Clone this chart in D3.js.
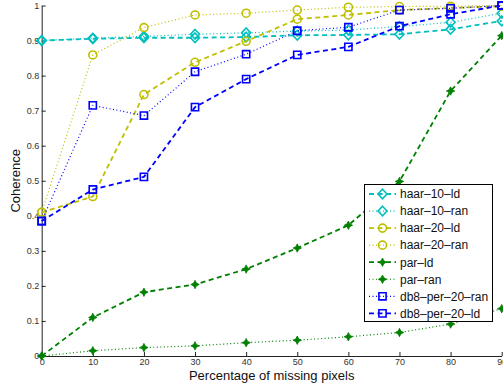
<!DOCTYPE html>
<html>
<head>
<meta charset="utf-8">
<script src="https://cdn.jsdelivr.net/npm/d3@7"></script>
<style>
  body { margin: 0; background: #fff; }
  text { font-family: "Liberation Sans", Arial, sans-serif; }
</style>
</head>
<body>
<div id="chart"></div>
<script>
// data
const missing = [0, 10, 20, 30, 40, 50, 60, 70, 80, 90];
const haar10ld = [0.90, 0.905, 0.908, 0.908, 0.91, 0.915, 0.916, 0.918, 0.932, 0.956];
const haar10ran = [0.90, 0.907, 0.912, 0.918, 0.922, 0.927, 0.93, 0.94, 0.952, 0.978];
const haar20ld = [0.41, 0.455, 0.746, 0.838, 0.898, 0.961, 0.973, 0.987, 0.993, 0.998];
const haar20ran = [0.41, 0.859, 0.937, 0.973, 0.978, 0.987, 0.995, 0.997, 0.998, 1.0];
const parld = [0, 0.11, 0.182, 0.204, 0.248, 0.308, 0.373, 0.498, 0.756, 0.914];
const parran = [0, 0.015, 0.024, 0.029, 0.038, 0.045, 0.055, 0.067, 0.091, 0.135];
const db8ran = [0.385, 0.715, 0.686, 0.811, 0.861, 0.928, 0.938, 0.987, 0.992, 1.0];
const db8ld = [0.385, 0.475, 0.511, 0.71, 0.79, 0.859, 0.882, 0.941, 0.975, 1.0];

const xTicks = [0, 10, 20, 30, 40, 50, 60, 70, 80, 90];
const yTicks = [0, 0.1, 0.2, 0.3, 0.4, 0.5, 0.6, 0.7, 0.8, 0.9, 1];

const seriesNames = ['haar–10–ld', 'haar–10–ran', 'haar–20–ld', 'haar–20–ran',
  'par–ld', 'par–ran', 'db8–per–20–ran', 'db8–per–20–ld'];
const seriesValues = [haar10ld, haar10ran, haar20ld, haar20ran, parld, parran, db8ran, db8ld];

// look of each series: colour, line style, marker
const seriesStyle = [
  { color: '#00bfbf', dash: '5,3.5', width: 1.8, marker: 'diamond' },
  { color: '#00bfbf', dash: '1,2.5', width: 1.2, marker: 'diamond' },
  { color: '#bfbf00', dash: '5,3.5', width: 1.8, marker: 'circle' },
  { color: '#bfbf00', dash: '1,2.5', width: 1.2, marker: 'circle' },
  { color: '#008000', dash: '5,3.5', width: 1.8, marker: 'star' },
  { color: '#008000', dash: '1,2.5', width: 1.2, marker: 'star' },
  { color: '#0000ff', dash: '1,2.5', width: 1.2, marker: 'square' },
  { color: '#0000ff', dash: '5,3.5', width: 1.8, marker: 'square' },
];

const width = 503;
const height = 389;
const plot = { left: 41.7, right: 501.7, top: 5.5, bottom: 356 };

const svg = d3
  .select('#chart')
  .append('svg')
  .attr('width', width)
  .attr('height', height);

const x = d3.scaleLinear().domain([0, 90]).range([plot.left, plot.right]);
const y = d3.scaleLinear().domain([0, 1]).range([plot.bottom, plot.top]);

// axes, ticks pointing inward like matlab
const xAxis = svg
  .append('g')
  .attr('transform', `translate(0,${plot.bottom})`)
  .call(d3.axisBottom(x).tickValues(xTicks).tickSizeInner(-4).tickSizeOuter(0).tickPadding(3));

const yAxis = svg
  .append('g')
  .attr('transform', `translate(${plot.left},0)`)
  .call(d3.axisLeft(y).tickValues(yTicks).tickFormat(d3.format('~g'))
    .tickSizeInner(-4).tickSizeOuter(0).tickPadding(2.5));

[xAxis, yAxis].forEach((g) => {
  g.select('.domain').attr('stroke', '#222');
  g.selectAll('.tick line').attr('stroke', '#222');
  g.selectAll('text').style('font-size', '9px').attr('fill', '#333')
    .style('font-family', '"Liberation Sans", Arial, sans-serif');
});

// axis labels
svg
  .append('text')
  .attr('x', (plot.left + plot.right) / 2)
  .attr('y', 379.5)
  .style('text-anchor', 'middle')
  .style('font-size', '13px')
  .attr('fill', '#111')
  .text('Percentage of missing pixels');

svg
  .append('text')
  .attr('transform', `translate(19.5,${(plot.top + plot.bottom) / 2}) rotate(-90)`)
  .style('text-anchor', 'middle')
  .style('font-size', '13px')
  .attr('fill', '#111')
  .text('Coherence');

const markerPath = {
  diamond: 'M0,-4.8L4.5,0L0,4.8L-4.5,0Z',
  circle: d3.symbol(d3.symbolCircle, 50)(),
  square: 'M-3.6,-3.6L3.6,-3.6L3.6,3.6L-3.6,3.6Z',
  star: 'M0,-4.2L1.4,-1.4L4.2,0L1.4,1.4L0,4.2L-1.4,1.4L-4.2,0L-1.4,-1.4Z',
};

function drawMarker(g, style, cx, cy) {
  const filled = style.marker === 'star';
  g.append('path')
    .attr('d', markerPath[style.marker])
    .attr('transform', `translate(${cx},${cy})`)
    .attr('fill', filled ? style.color : 'none')
    .attr('stroke', style.color)
    .attr('stroke-width', filled ? 0.8 : 1.6);
}

const line = d3
  .line()
  .x((d, i) => x(missing[i]))
  .y((d) => y(d));

seriesValues.forEach((values, k) => {
  const style = seriesStyle[k];
  const g = svg.append('g');
  g.append('path')
    .datum(values)
    .attr('fill', 'none')
    .attr('stroke', style.color)
    .attr('stroke-width', style.width)
    .attr('stroke-dasharray', style.dash)
    .attr('d', line);
  values.forEach((v, i) => drawMarker(g, style, x(missing[i]), y(v)));
});

// legend
const legend = svg.append('g');
legend
  .append('rect')
  .attr('x', 364.5)
  .attr('y', 184.5)
  .attr('width', 128)
  .attr('height', 137)
  .attr('fill', '#fff')
  .attr('stroke', '#000')
  .attr('stroke-width', 1);

seriesNames.forEach((name, k) => {
  const style = seriesStyle[k];
  const rowY = 194 + k * 17.05;
  legend
    .append('line')
    .attr('x1', 369)
    .attr('x2', 396)
    .attr('y1', rowY)
    .attr('y2', rowY)
    .attr('stroke', style.color)
    .attr('stroke-width', style.width)
    .attr('stroke-dasharray', style.dash);
  drawMarker(legend, style, 382.5, rowY);
  legend
    .append('text')
    .attr('x', 400)
    .attr('y', rowY)
    .attr('dy', '0.36em')
    .style('font-size', '12px')
    .attr('fill', '#111')
    .text(name);
});
</script>
</body>
</html>
